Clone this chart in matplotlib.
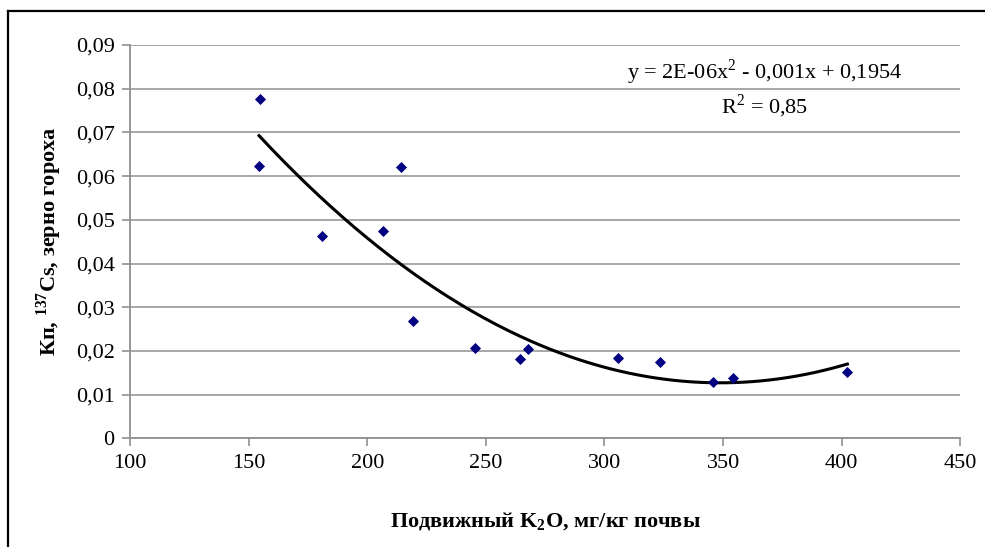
import numpy as np
import matplotlib.pyplot as plt
from matplotlib.lines import Line2D
from matplotlib.ticker import FuncFormatter

# подвижный K2O, мг/кг почвы
k2o = [154.8, 154.4, 181.0, 206.7, 214.3, 219.4, 245.5, 264.5, 267.9,
       305.8, 323.5, 345.9, 354.3, 402.4]
# Кп 137Cs, зерно гороха
kp = [0.0776, 0.0623, 0.0463, 0.0475, 0.0621, 0.0268, 0.0207, 0.0181, 0.0204,
      0.0184, 0.0175, 0.0129, 0.0138, 0.0152]

x_ticks = [100, 150, 200, 250, 300, 350, 400, 450]
y_ticks = [0, 0.01, 0.02, 0.03, 0.04, 0.05, 0.06, 0.07, 0.08, 0.09]

plt.rcParams["font.family"] = ["Liberation Serif", "DejaVu Serif"]
plt.rcParams["mathtext.fontset"] = "custom"
plt.rcParams["mathtext.rm"] = "Liberation Serif"
plt.rcParams["mathtext.bf"] = "Liberation Serif:bold"

W, H = 985, 547
fig = plt.figure(figsize=(W / 100, H / 100), dpi=100)
ax = fig.add_axes([130 / W, 1 - 438.3 / H, (960.3 - 130) / W, (438.3 - 45) / H])

ax.set_xlim(100, 450)
ax.set_ylim(0, 0.09)
ax.set_xticks(x_ticks)
ax.set_yticks(y_ticks)
ax.yaxis.set_major_formatter(FuncFormatter(lambda v, _: "0" if v == 0 else f"{v:.2f}".replace(".", ",")))
ax.grid(axis="y", color="#a0a0a0", linewidth=1.3)
ax.set_axisbelow(True)
for side in ["top", "right"]:
    ax.spines[side].set_visible(False)
for side in ["left", "bottom"]:
    ax.spines[side].set_color("#909090")
    ax.spines[side].set_linewidth(1.3)
ax.tick_params(length=6, width=1.2, color="#909090", labelsize=16, pad=5)

ax.scatter(k2o, kp, marker="D", s=32, color="#000080", zorder=3, linewidths=0)

coef = np.polyfit(k2o, kp, 2)
xs = np.linspace(min(k2o), max(k2o), 200)
ax.plot(xs, np.polyval(coef, xs), color="black", linewidth=2.2, zorder=2)

ax.text(367.4, 0.0838, "y = 2E-06x$^2$ - 0,001x + 0,1954", ha="center", va="center", fontsize=16)
ax.text(367.4, 0.0760, "R$^2$ = 0,85", ha="center", va="center", fontsize=16)

ax.set_xlabel(r"Подвижный K$_\mathbf{2}$O, мг/кг почвы", fontsize=16, fontweight="bold")
ax.set_ylabel(r"Кп, $^{\mathbf{137}}$Cs, зерно гороха", fontsize=16, fontweight="bold")
ax.xaxis.set_label_coords(0.5, -0.185)
ax.yaxis.set_label_coords(-0.08, 0.5)

fig.add_artist(Line2D([8 / W, 1], [1 - 11 / H, 1 - 11 / H], color="black", linewidth=1.6))
fig.add_artist(Line2D([8 / W, 8 / W], [1 - 11 / H, 0], color="black", linewidth=1.6))

fig.savefig("out.png", dpi=100)
